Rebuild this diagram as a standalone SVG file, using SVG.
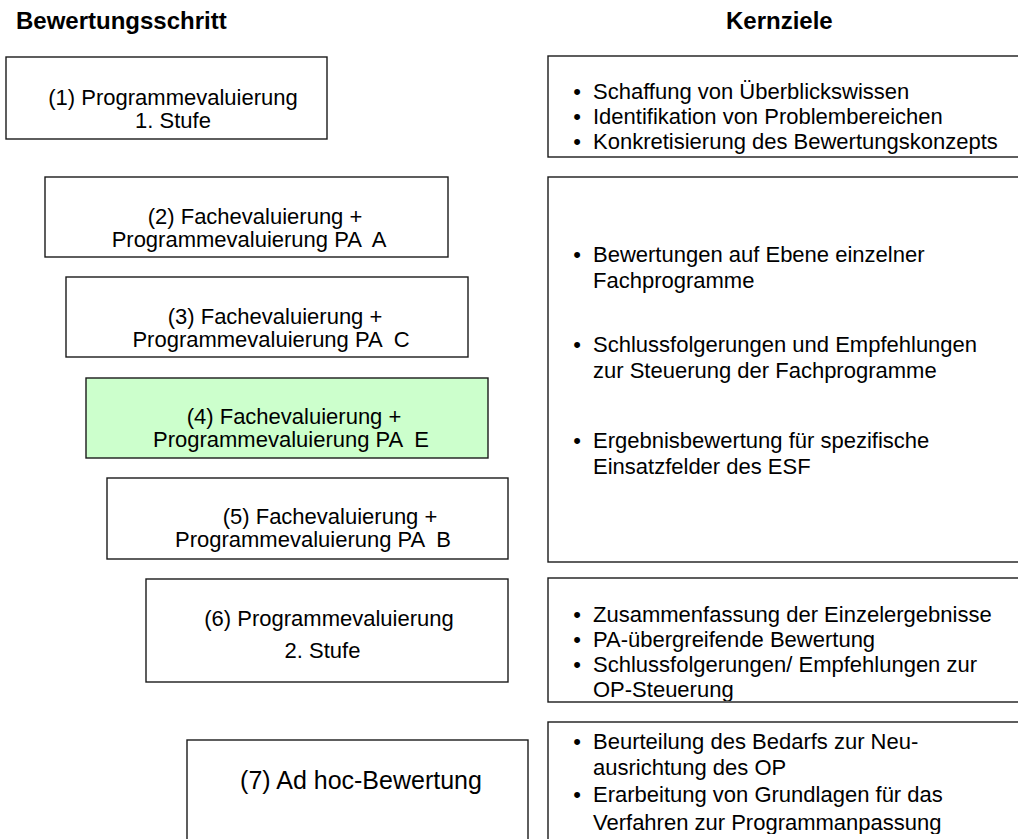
<svg xmlns="http://www.w3.org/2000/svg" width="1018" height="839" viewBox="0 0 1018 839">
<style>
  .box { fill: #ffffff; stroke: #1a1a1a; stroke-width: 1.4; }
  .green { fill: #ccffcc; }
  .hdr { font-family: "Liberation Sans", Arial, sans-serif; font-size: 24px; font-weight: bold; fill: #000; }
  .t { font-family: "Liberation Sans", Arial, sans-serif; font-size: 22px; fill: #000; }
  .c { text-anchor: middle; }
  .big { font-size: 25px; }
  .b { text-anchor: middle; }
</style>
<defs>
  <clipPath id="clipR1"><rect x="549" y="57" width="480" height="99"/></clipPath>
  <clipPath id="clipR2"><rect x="549" y="178" width="480" height="383"/></clipPath>
  <clipPath id="clipR3"><rect x="549" y="579" width="480" height="122"/></clipPath>
  <clipPath id="clipR4"><rect x="549" y="723" width="480" height="111"/></clipPath>
</defs>
<rect width="1018" height="839" fill="#ffffff"/>

<g id="headers">
  <text class="hdr" x="16" y="29">Bewertungsschritt</text>
  <text class="hdr" x="726" y="29">Kernziele</text>
</g>

<g id="connectors"></g>

<g id="step1">
  <rect class="box" x="6" y="57" width="321" height="82"/>
  <text class="t c" x="173" y="105">(1) Programmevaluierung</text>
  <text class="t c" x="173" y="128">1. Stufe</text>
</g>

<g id="step2">
  <rect class="box" x="45" y="177" width="403" height="80"/>
  <text class="t c" x="255" y="224">(2) Fachevaluierung +</text>
  <text class="t c" x="249" y="247" xml:space="preserve">Programmevaluierung PA  A</text>
</g>

<g id="step3">
  <rect class="box" x="66" y="277" width="402" height="80"/>
  <text class="t c" x="275" y="324">(3) Fachevaluierung +</text>
  <text class="t c" x="271" y="347" xml:space="preserve">Programmevaluierung PA  C</text>
</g>

<g id="step4">
  <rect class="box green" x="86" y="378" width="402" height="80"/>
  <text class="t c" x="294" y="424">(4) Fachevaluierung +</text>
  <text class="t c" x="291" y="447" xml:space="preserve">Programmevaluierung PA  E</text>
</g>

<g id="step5">
  <rect class="box" x="107" y="478" width="401" height="81"/>
  <text class="t c" x="330" y="524">(5) Fachevaluierung +</text>
  <text class="t c" x="313" y="547" xml:space="preserve">Programmevaluierung PA  B</text>
</g>

<g id="step6">
  <rect class="box" x="146" y="579" width="362" height="103"/>
  <text class="t c" x="329" y="626">(6) Programmevaluierung</text>
  <text class="t c" x="322.5" y="658">2. Stufe</text>
</g>

<g id="step7">
  <rect class="box" x="187" y="740" width="341" height="120"/>
  <text class="t c big" x="361" y="789">(7) Ad hoc-Bewertung</text>
</g>

<g id="goals1">
  <rect class="box" x="548" y="56" width="490" height="101"/>
  <g clip-path="url(#clipR1)">
    <text class="t b" x="577" y="99">•</text>
    <text class="t" x="593" y="99">Schaffung von Überblickswissen</text>
    <text class="t b" x="577" y="124">•</text>
    <text class="t" x="593" y="124">Identifikation von Problembereichen</text>
    <text class="t b" x="577" y="149">•</text>
    <text class="t" x="593" y="149">Konkretisierung des Bewertungskonzepts</text>
  </g>
</g>

<g id="goals2">
  <rect class="box" x="548" y="177" width="490" height="385"/>
  <g clip-path="url(#clipR2)">
    <text class="t b" x="577" y="262">•</text>
    <text class="t" x="593" y="262">Bewertungen auf Ebene einzelner</text>
    <text class="t" x="593" y="288">Fachprogramme</text>
    <text class="t b" x="577" y="352">•</text>
    <text class="t" x="593" y="352">Schlussfolgerungen und Empfehlungen</text>
    <text class="t" x="593" y="378">zur Steuerung der Fachprogramme</text>
    <text class="t b" x="577" y="448">•</text>
    <text class="t" x="593" y="448">Ergebnisbewertung für spezifische</text>
    <text class="t" x="593" y="474">Einsatzfelder des ESF</text>
  </g>
</g>

<g id="goals3">
  <rect class="box" x="548" y="578" width="490" height="124"/>
  <g clip-path="url(#clipR3)">
    <text class="t b" x="577" y="622">•</text>
    <text class="t" x="593" y="622">Zusammenfassung der Einzelergebnisse</text>
    <text class="t b" x="577" y="647">•</text>
    <text class="t" x="593" y="647">PA-übergreifende Bewertung</text>
    <text class="t b" x="577" y="672">•</text>
    <text class="t" x="593" y="672">Schlussfolgerungen/ Empfehlungen zur</text>
    <text class="t" x="593" y="697">OP-Steuerung</text>
  </g>
</g>

<g id="goals4">
  <rect class="box" x="548" y="722" width="490" height="140"/>
  <g clip-path="url(#clipR4)">
    <text class="t b" x="577" y="749">•</text>
    <text class="t" x="593" y="749">Beurteilung des Bedarfs zur Neu-</text>
    <text class="t" x="593" y="775">ausrichtung des OP</text>
    <text class="t b" x="577" y="802">•</text>
    <text class="t" x="593" y="802">Erarbeitung von Grundlagen für das</text>
    <text class="t" x="593" y="830">Verfahren zur Programmanpassung</text>
  </g>
</g>
</svg>
